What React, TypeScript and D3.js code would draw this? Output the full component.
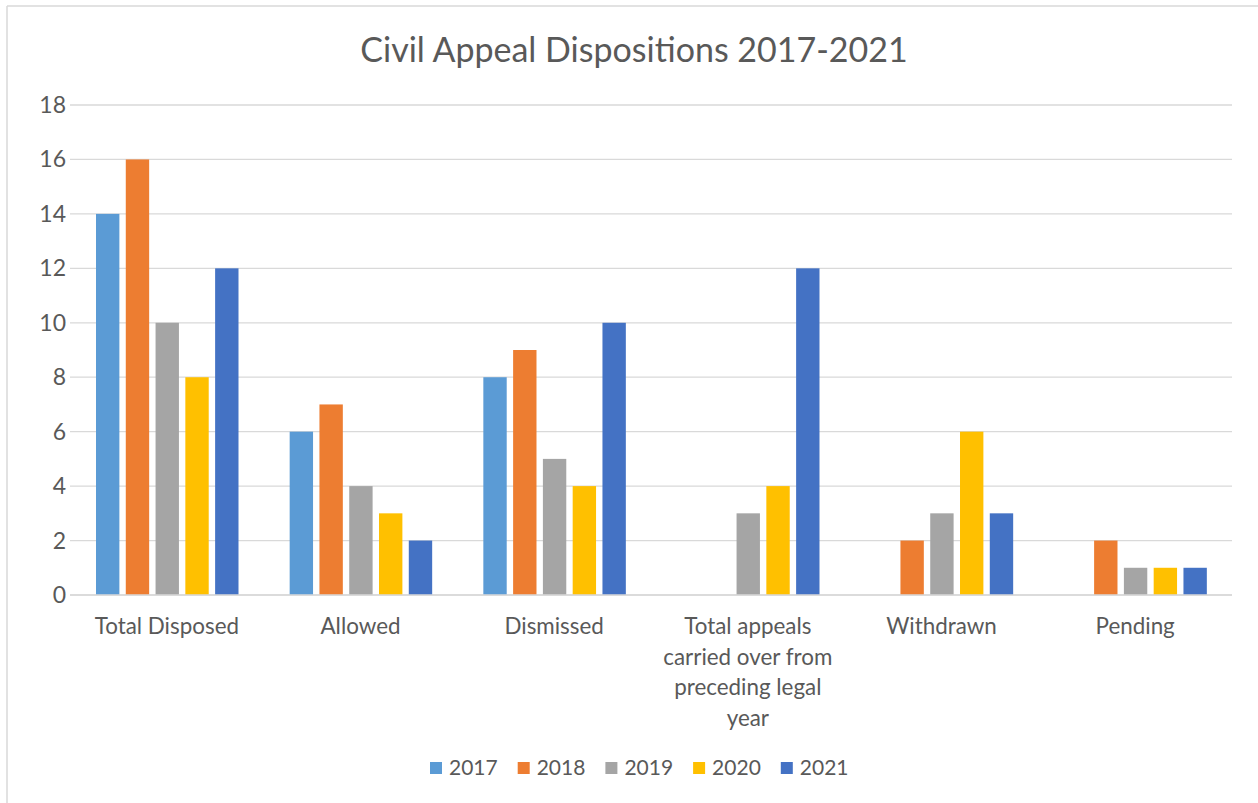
import React, { useEffect, useRef } from "react";
import * as d3 from "d3";

const title = "Civil Appeal Dispositions 2017-2021";
const categories = [
  "Total Disposed",
  "Allowed",
  "Dismissed",
  "Total appeals carried over from preceding legal year",
  "Withdrawn",
  "Pending",
];
const seriesNames = ["2017", "2018", "2019", "2020", "2021"];
const seriesColors = ["#5B9BD5", "#ED7D31", "#A5A5A5", "#FFC000", "#4472C4"];
const v2017: (number | null)[] = [14, 6, 8, null, null, null];
const v2018: (number | null)[] = [16, 7, 9, null, 2, 2];
const v2019: (number | null)[] = [10, 4, 5, 3, 3, 1];
const v2020: (number | null)[] = [8, 3, 4, 4, 6, 1];
const v2021: (number | null)[] = [12, 2, 10, 12, 3, 1];
const seriesValues = [v2017, v2018, v2019, v2020, v2021];
const yTicks = [0, 2, 4, 6, 8, 10, 12, 14, 16, 18];

const W = 1258;
const H = 803;
const FONT = "Lato, 'Open Sans', sans-serif";
const TEXT = "#595959";

export default function App() {
  const ref = useRef<SVGSVGElement>(null);
  useEffect(() => {
    const svg = d3.select(ref.current);
    svg.selectAll("*").remove();
    svg.append("rect").attr("x", 0).attr("y", 0).attr("width", W).attr("height", H).attr("fill", "#fff");
    // chart border (left & top visible)
    svg.append("line").attr("x1", 7).attr("x2", 7).attr("y1", 6).attr("y2", H).attr("stroke", "#d9d9d9").attr("stroke-width", 1.5);
    svg.append("line").attr("x1", 7).attr("x2", W).attr("y1", 6).attr("y2", 6).attr("stroke", "#d9d9d9").attr("stroke-width", 1.5);

    const left = 70, right = 1232, top = 105, bottom = 595;
    const y = d3.scaleLinear().domain([0, 18]).range([bottom, top]);
    const x0 = d3.scaleBand().domain(categories).range([left, right]).padding(0);
    const x1 = d3.scaleBand().domain(seriesNames).range([26, 168.5]).paddingInner(0.215).paddingOuter(0);

    // title
    svg.append("text").attr("x", 634).attr("y", 62).attr("text-anchor", "middle")
      .attr("font-family", FONT).attr("font-size", 34).attr("fill", TEXT).text(title);

    // gridlines
    const g = svg.append("g");
    g.selectAll("line.grid").data(yTicks).enter().append("line")
      .attr("x1", left).attr("x2", right)
      .attr("y1", (d) => y(d)).attr("y2", (d) => y(d))
      .attr("stroke", "#d9d9d9").attr("stroke-width", 1.3);
    g.selectAll("text.ytick").data(yTicks).enter().append("text")
      .attr("x", 66).attr("y", (d) => y(d)).attr("dy", "0.35em")
      .attr("text-anchor", "end").attr("font-family", FONT).attr("font-size", 23).attr("fill", TEXT)
      .text((d) => String(d));

    // bars
    seriesNames.forEach((s, si) => {
      const data = categories.map((c, ci) => ({ c, v: seriesValues[si][ci] })).filter((d) => d.v != null);
      svg.append("g").selectAll("rect").data(data).enter().append("rect")
        .attr("x", (d) => (x0(d.c) as number) + (x1(s) as number))
        .attr("width", x1.bandwidth())
        .attr("y", (d) => y(d.v as number))
        .attr("height", (d) => y(0) - y(d.v as number))
        .attr("fill", seriesColors[si]);
    });
    // baseline
    svg.append("line").attr("x1", left).attr("x2", right).attr("y1", y(0)).attr("y2", y(0))
      .attr("stroke", "#d9d9d9").attr("stroke-width", 1.3);

    // category labels with wrapping
    const maxW = 182;
    categories.forEach((c) => {
      const cx = (x0(c) as number) + x0.bandwidth() / 2;
      const t = svg.append("text").attr("x", cx).attr("y", 634).attr("text-anchor", "middle")
        .attr("font-family", FONT).attr("font-size", 22.4).attr("fill", TEXT);
      const words = c.split(" ");
      let line: string[] = [];
      let tspan = t.append("tspan").attr("x", cx).attr("dy", 0);
      words.forEach((w) => {
        line.push(w);
        tspan.text(line.join(" "));
        if ((tspan.node() as SVGTSpanElement).getComputedTextLength() > maxW && line.length > 1) {
          line.pop();
          tspan.text(line.join(" "));
          line = [w];
          tspan = t.append("tspan").attr("x", cx).attr("dy", 30.5).text(w);
        }
      });
    });

    // legend
    const lx = [430, 517.7, 605.4, 693.1, 780.8];
    seriesNames.forEach((s, i) => {
      svg.append("rect").attr("x", lx[i]).attr("y", 762).attr("width", 12).attr("height", 12).attr("fill", seriesColors[i]);
      svg.append("text").attr("x", lx[i] + 19).attr("y", 768).attr("dy", "0.35em")
        .attr("font-family", FONT).attr("font-size", 21).attr("fill", TEXT).text(s);
    });
  }, []);
  return (
    <svg ref={ref} width={W} height={H} style={{ position: "absolute", left: 0, top: 0, display: "block" }} />
  );
}
